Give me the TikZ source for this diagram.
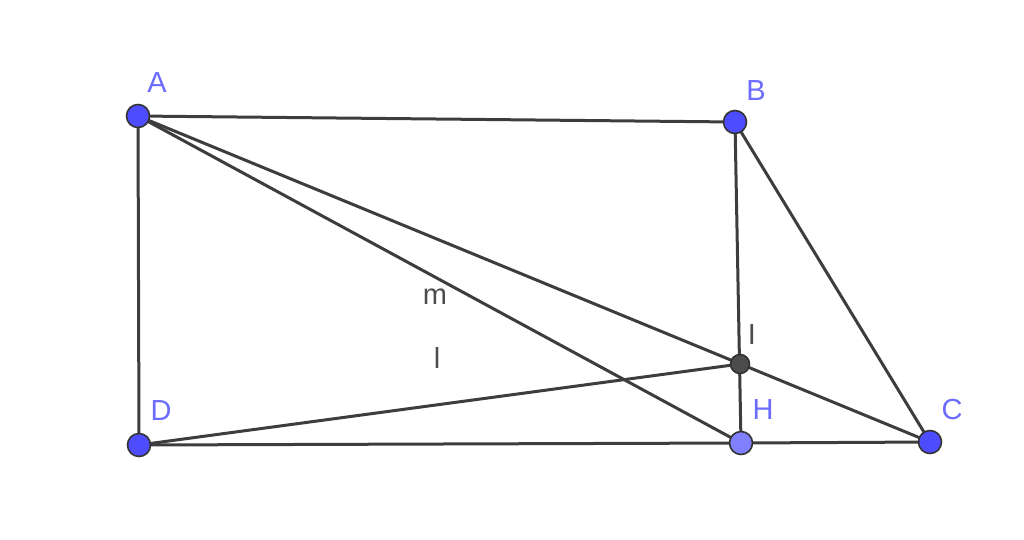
\documentclass[tikz,border=0pt]{standalone}
\usepackage{fontspec}
\setmainfont{Liberation Sans}
\begin{document}
\begin{tikzpicture}[x=1pt,y=-1pt,
  seg/.style={draw=black!76,line width=3pt},
  pt/.style={circle,draw=black!80,line width=1.6pt,fill=ptblue,minimum size=23pt,inner sep=0pt},
  ptH/.style={pt,fill=ptlight},
  ptI/.style={pt,fill=black!70,minimum size=19pt},
  lab/.style={text=labblue,font=\fontsize{29}{33}\selectfont,inner sep=0pt},
  glab/.style={text=black!70,font=\fontsize{29}{33}\selectfont,inner sep=0pt}]
\definecolor{ptblue}{HTML}{4D4DFF}
\definecolor{ptlight}{HTML}{7F7FFF}
\definecolor{labblue}{HTML}{6B6BFF}
\useasboundingbox (0,0) rectangle (1024,539);
\coordinate (A) at (138,116);
\coordinate (B) at (735,122);
\coordinate (C) at (930,442);
\coordinate (D) at (139,445);
\coordinate (H) at (741,443);
\coordinate (I) at (740,364);
\draw[seg] (A) -- (B);
\draw[seg] (A) -- (D);
\draw[seg] (D) -- (H) -- (C);
\draw[seg] (B) -- (H);
\draw[seg] (B) -- (C);
\draw[seg] (A) -- (C);
\draw[seg] (A) -- (H);
\draw[seg] (D) -- (I);
\node[pt] (pA) at (A) {};
\node[pt] (pB) at (B) {};
\node[pt] (pC) at (C) {};
\node[pt] (pD) at (D) {};
\node[ptH] (pH) at (H) {};
\node[ptI] (pI) at (I) {};
\node[lab] (lA) at (157,83) {A};
\node[lab] (lB) at (756,91) {B};
\node[lab] (lC) at (952,410) {C};
\node[lab] (lD) at (161,411) {D};
\node[lab] (lH) at (763,410) {H};
\node[glab] (lI) at (752,335) {I};
\node[glab] (lm) at (435,297) {m};
\node[glab] (ll) at (437,358) {l};
\end{tikzpicture}
\end{document}
